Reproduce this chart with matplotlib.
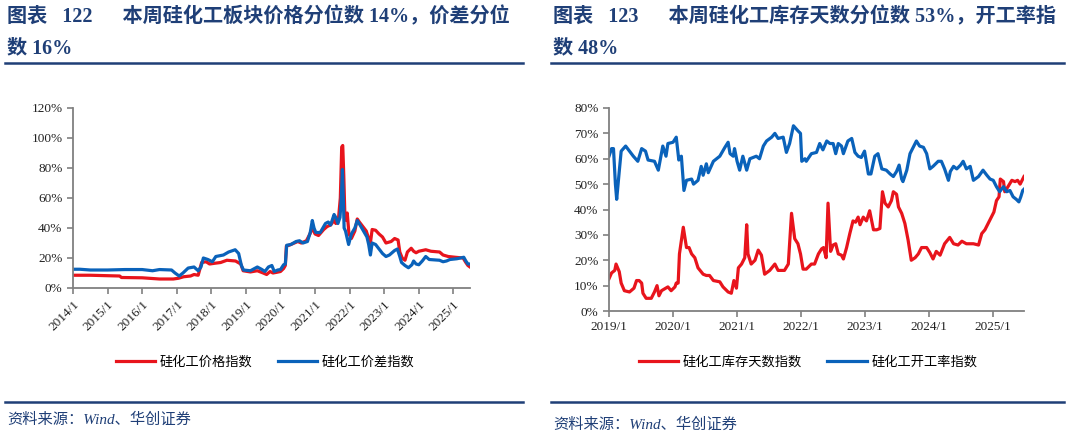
import matplotlib
matplotlib.use("Agg")
import matplotlib.pyplot as plt
from matplotlib.lines import Line2D

plt.rcParams["font.family"] = ["Liberation Serif", "Noto Sans CJK SC"]

RED = "#E8141C"
BLUE = "#0A62BA"
NAVY = "#1F3F77"
AXIS = "#808080"

# ---------- Data: left chart (decimal year, %) ----------
price_x = [2014.00, 2014.50, 2015.00, 2015.35, 2015.40, 2016.00, 2016.50, 2016.90, 2017.05, 2017.20,
           2017.40, 2017.50, 2017.62, 2017.72, 2017.85, 2017.95, 2018.10, 2018.27, 2018.45, 2018.70,
           2018.85, 2018.92, 2019.13, 2019.33, 2019.50, 2019.60, 2019.70, 2019.78, 2019.90, 2020.00,
           2020.09, 2020.14, 2020.17, 2020.25, 2020.40, 2020.50, 2020.60, 2020.75, 2020.85, 2020.92,
           2021.00, 2021.10, 2021.25, 2021.35, 2021.45, 2021.55, 2021.60, 2021.68, 2021.73, 2021.77,
           2021.80, 2021.83, 2021.86, 2021.90, 2021.93, 2021.98, 2022.05, 2022.15, 2022.22, 2022.28,
           2022.38, 2022.48, 2022.55, 2022.60, 2022.65, 2022.75, 2022.85, 2022.95, 2023.05, 2023.20,
           2023.30, 2023.40, 2023.45, 2023.52, 2023.60, 2023.67, 2023.78, 2023.85, 2023.92, 2024.00,
           2024.20, 2024.35, 2024.60, 2024.70, 2024.85, 2025.05, 2025.28, 2025.36, 2025.42, 2025.48]
price_y = [8.5, 8.5, 8.2, 8.0, 7.0, 6.8, 6.0, 6.0, 6.5, 7.5,
           8.0, 9.0, 8.5, 17.0, 17.5, 16.0, 16.5, 17.0, 18.5, 18.0,
           16.0, 11.5, 10.7, 11.5, 10.0, 9.0, 11.0, 10.0, 10.5, 11.0,
           13.0, 15.0, 28.0, 28.5, 30.0, 31.0, 30.0, 31.5, 36.0, 40.0,
           36.0, 35.0, 39.0, 41.0, 42.0, 45.0, 43.0, 47.0, 60.0, 94.0,
           95.0, 75.0, 50.0, 45.0, 50.0, 36.0, 33.0, 38.0, 46.0, 44.0,
           41.0, 38.0, 33.0, 30.0, 39.0, 38.5, 36.0, 34.0, 30.0, 31.0,
           33.0, 32.0, 24.0, 20.0, 18.5, 24.0, 26.5, 24.5, 23.5, 24.5,
           25.5, 24.5, 24.0, 22.0, 21.0, 20.5, 20.0, 17.0, 15.0, 14.0]

spread_x = [2014.00, 2014.20, 2014.50, 2015.00, 2015.50, 2016.00, 2016.30, 2016.50, 2016.85, 2016.95,
            2017.07, 2017.18, 2017.33, 2017.50, 2017.62, 2017.70, 2017.77, 2017.90, 2018.03, 2018.13,
            2018.35, 2018.50, 2018.69, 2018.79, 2018.87, 2018.93, 2019.13, 2019.33, 2019.45, 2019.55,
            2019.65, 2019.75, 2019.82, 2019.92, 2020.00, 2020.09, 2020.14, 2020.18, 2020.30, 2020.45,
            2020.55, 2020.65, 2020.78, 2020.86, 2020.92, 2020.97, 2021.02, 2021.15, 2021.30, 2021.38,
            2021.45, 2021.55, 2021.60, 2021.66, 2021.72, 2021.76, 2021.79, 2021.81, 2021.84, 2021.88,
            2021.92, 2021.97, 2022.05, 2022.15, 2022.22, 2022.30, 2022.40, 2022.50, 2022.55, 2022.60,
            2022.65, 2022.75, 2022.85, 2022.95, 2023.05, 2023.15, 2023.30, 2023.38, 2023.45, 2023.50,
            2023.60, 2023.70, 2023.80, 2023.85, 2023.92, 2024.00, 2024.10, 2024.20, 2024.30, 2024.60,
            2024.70, 2024.80, 2024.90, 2025.10, 2025.30, 2025.36, 2025.42, 2025.48]
spread_y = [12.5, 12.5, 12.0, 12.0, 12.3, 12.3, 11.5, 12.3, 12.0, 10.0,
            8.0, 10.0, 13.3, 14.0, 11.5, 14.0, 20.0, 19.0, 17.5, 21.0,
            22.0, 24.0, 25.5, 23.0, 15.0, 12.0, 11.5, 14.0, 12.5, 11.0,
            14.0, 15.0, 11.0, 12.0, 12.3, 15.5, 16.0, 28.5, 29.0, 31.0,
            31.5, 30.0, 31.0, 37.0, 45.0, 40.0, 37.0, 37.0, 43.0, 44.0,
            42.0, 49.0, 47.0, 43.0, 47.0, 60.0, 79.0, 65.0, 40.0, 38.0,
            34.0, 29.0, 36.0, 40.0, 45.0, 42.0, 38.0, 34.0, 29.0, 22.0,
            30.0, 29.0, 26.0, 23.0, 21.0, 22.0, 25.0, 26.0, 21.0, 17.0,
            15.0, 13.5, 15.5, 18.0, 16.0, 15.5, 18.0, 21.0, 19.0, 18.5,
            17.5, 18.0, 19.0, 19.5, 20.5, 18.0, 16.0, 16.0]

# ---------- Data: right chart (decimal year, %) ----------
stock_x = [2019.00, 2019.04, 2019.09, 2019.11, 2019.16, 2019.19, 2019.24, 2019.32, 2019.39, 2019.43,
           2019.47, 2019.51, 2019.53, 2019.58, 2019.66, 2019.71, 2019.75, 2019.78, 2019.82, 2019.92,
           2019.97, 2020.03, 2020.05, 2020.08, 2020.10, 2020.16, 2020.21, 2020.25, 2020.29, 2020.34,
           2020.39, 2020.47, 2020.52, 2020.57, 2020.63, 2020.73, 2020.78, 2020.86, 2020.91, 2020.95,
           2020.99, 2021.02, 2021.07, 2021.12, 2021.15, 2021.17, 2021.22, 2021.28, 2021.33, 2021.38,
           2021.43, 2021.51, 2021.59, 2021.64, 2021.74, 2021.80, 2021.85, 2021.90, 2021.95, 2021.99,
           2022.03, 2022.08, 2022.16, 2022.21, 2022.27, 2022.32, 2022.35, 2022.39, 2022.42, 2022.46,
           2022.50, 2022.54, 2022.58, 2022.63, 2022.66, 2022.71, 2022.76, 2022.81, 2022.85, 2022.89,
           2022.92, 2022.97, 2023.02, 2023.07, 2023.13, 2023.18, 2023.23, 2023.27, 2023.31, 2023.36,
           2023.41, 2023.44, 2023.49, 2023.52, 2023.57, 2023.62, 2023.67, 2023.72, 2023.78, 2023.83,
           2023.88, 2023.96, 2024.01, 2024.06, 2024.11, 2024.17, 2024.24, 2024.32, 2024.38, 2024.45,
           2024.51, 2024.58, 2024.69, 2024.77, 2024.82, 2024.87, 2024.92, 2024.97, 2025.01, 2025.05,
           2025.09, 2025.11, 2025.16, 2025.18, 2025.23, 2025.29, 2025.34, 2025.38, 2025.42, 2025.46,
           2025.48]
stock_y = [12.7, 15.0, 16.0, 18.5, 15.5, 11.0, 8.0, 7.5, 9.0, 12.0,
           12.0, 11.0, 7.0, 5.0, 5.0, 7.5, 10.0, 6.0, 8.0, 9.5,
           8.0, 9.5, 11.0, 11.0, 22.5, 33.0, 25.0, 25.0, 22.5, 21.0,
           17.0, 14.5, 14.0, 14.0, 12.0, 11.5, 9.5, 7.5, 7.0, 12.0,
           9.0, 17.0, 18.5, 21.0, 34.0, 22.5, 18.5, 20.0, 24.0, 22.0,
           14.5, 16.0, 18.5, 16.0, 16.0, 18.5, 38.5, 28.5, 26.5, 22.5,
           16.5, 16.5, 18.5, 18.5, 22.5, 24.5, 25.0, 21.0, 42.5, 23.5,
           26.0, 26.5, 22.5, 22.0, 20.5, 25.0, 30.5, 35.5, 35.0, 37.0,
           34.0, 37.0, 35.5, 39.5, 32.0, 32.0, 32.5, 47.0, 42.5, 41.0,
           43.5, 47.0, 46.0, 41.0, 38.5, 34.5, 28.0, 20.0, 21.0, 22.5,
           25.0, 25.0, 23.0, 20.5, 23.5, 22.0, 26.5, 29.0, 26.5, 26.0,
           27.5, 26.5, 26.5, 26.0, 30.5, 32.0, 34.5, 37.0, 39.0, 43.5,
           45.0, 52.0, 51.0, 47.0, 49.0, 51.5, 51.0, 51.5, 50.0, 52.0,
           53.0]

run_x = [2019.00, 2019.04, 2019.07, 2019.10, 2019.12, 2019.16, 2019.19, 2019.26, 2019.38, 2019.45,
         2019.48, 2019.51, 2019.57, 2019.61, 2019.71, 2019.77, 2019.84, 2019.89, 2019.92, 2020.00,
         2020.05, 2020.09, 2020.13, 2020.17, 2020.21, 2020.29, 2020.32, 2020.39, 2020.44, 2020.47,
         2020.52, 2020.55, 2020.63, 2020.73, 2020.81, 2020.86, 2020.89, 2020.94, 2020.96, 2021.00,
         2021.04, 2021.09, 2021.15, 2021.20, 2021.30, 2021.35, 2021.41, 2021.46, 2021.54, 2021.59,
         2021.64, 2021.72, 2021.77, 2021.82, 2021.88, 2021.95, 2021.99, 2022.01, 2022.06, 2022.08,
         2022.16, 2022.24, 2022.29, 2022.34, 2022.40, 2022.45, 2022.50, 2022.54, 2022.58, 2022.63,
         2022.66, 2022.73, 2022.79, 2022.84, 2022.89, 2022.94, 2022.99, 2023.05, 2023.09, 2023.15,
         2023.20, 2023.26, 2023.33, 2023.39, 2023.44, 2023.49, 2023.53, 2023.57, 2023.59, 2023.65,
         2023.70, 2023.75, 2023.80, 2023.85, 2023.91, 2023.96, 2024.01, 2024.06, 2024.14, 2024.19,
         2024.24, 2024.30, 2024.33, 2024.38, 2024.43, 2024.49, 2024.53, 2024.58, 2024.64, 2024.69,
         2024.77, 2024.84, 2024.90, 2024.95, 2025.00, 2025.05, 2025.10, 2025.16, 2025.21, 2025.26,
         2025.31, 2025.36, 2025.40, 2025.43, 2025.46, 2025.48]
run_y = [61.0, 64.0, 64.0, 50.0, 44.0, 55.0, 63.0, 65.0, 61.0, 59.0,
         61.5, 64.0, 63.0, 59.5, 59.0, 55.5, 65.0, 61.0, 66.0, 66.5,
         68.5, 59.5, 61.0, 47.5, 51.5, 52.0, 50.0, 51.5, 57.0, 53.5,
         58.0, 54.5, 59.0, 61.0, 64.5, 66.5, 62.0, 61.0, 64.0, 59.0,
         55.5, 61.0, 55.5, 60.0, 61.0, 60.0, 65.0, 67.0, 68.5, 70.0,
         68.0, 68.5, 62.5, 66.0, 73.0, 71.0, 70.0, 59.0, 60.0, 59.0,
         62.0, 62.5, 66.0, 63.5, 67.0, 66.0, 66.0, 62.0, 66.0, 65.0,
         62.0, 67.0, 68.0, 62.5, 61.0, 60.5, 63.0, 54.0, 54.0, 61.0,
         62.0, 56.0, 55.5, 54.0, 53.0, 55.0, 57.5, 52.0, 51.0, 55.5,
         62.0, 64.5, 67.0, 65.0, 64.5, 62.0, 56.0, 57.0, 59.0, 59.0,
         56.0, 51.5, 55.0, 57.0, 56.0, 57.5, 59.0, 56.0, 57.0, 51.5,
         53.0, 55.5, 53.5, 52.0, 51.5, 49.0, 47.0, 49.0, 47.0, 47.5,
         45.0, 44.0, 43.0, 45.0, 47.5, 48.0]

left_title = ["图表   122      本周硅化工板块价格分位数 14%，价差分位", "数 16%"]
right_title = ["图表   123      本周硅化工库存天数分位数 53%，开工率指", "数 48%"]
left_names = ["硅化工价格指数", "硅化工价差指数"]
right_names = ["硅化工库存天数指数", "硅化工开工率指数"]
source = "资料来源：Wind、华创证券"

# ---------- Figure ----------
fig = plt.figure(figsize=(10.69, 4.38), dpi=100)
W, H = 1069, 438


def fx(px):
    return px / W


def fy(py):
    return 1 - py / H


def style_axes(ax):
    for s in ["top", "right"]:
        ax.spines[s].set_visible(False)
    for s in ["left", "bottom"]:
        ax.spines[s].set_color(AXIS)
        ax.spines[s].set_linewidth(1.3)
    ax.tick_params(axis="both", colors=AXIS, length=4, width=1.2, labelsize=9.5,
                   labelcolor="#222222", direction="out")


# left chart
axL = fig.add_axes([fx(73), fy(288), fx(470) - fx(73), fy(108) - fy(288)])
axL.plot(price_x, price_y, color=RED, lw=2.3, label=left_names[0])
axL.plot(spread_x, spread_y, color=BLUE, lw=2.3, label=left_names[1])
axL.set_xlim(2014, 2025.48)
axL.set_ylim(0, 120)
axL.set_yticks(range(0, 121, 20))
axL.set_yticklabels([f"{v}%" for v in range(0, 121, 20)])
axL.set_xticks(range(2014, 2026))
axL.set_xticklabels([f"{y}/1" for y in range(2014, 2026)], rotation=45, ha="right",
                    rotation_mode="anchor", fontsize=10)
style_axes(axL)
axL.legend(loc="center", bbox_to_anchor=(fx(265), fy(362)), bbox_transform=fig.transFigure,
           ncol=2, frameon=False, handlelength=3.0, handletextpad=0.35, columnspacing=1.9,
           prop={"family": ["Noto Sans CJK SC"], "size": 9.5})

# right chart
axR = fig.add_axes([fx(609), fy(311), fx(1024) - fx(609), fy(108) - fy(311)])
axR.plot(stock_x, stock_y, color=RED, lw=2.3, label=right_names[0])
axR.plot(run_x, run_y, color=BLUE, lw=2.3, label=right_names[1])
axR.set_xlim(2019, 2025.48)
axR.set_ylim(0, 80)
axR.set_yticks(range(0, 81, 10))
axR.set_yticklabels([f"{v}%" for v in range(0, 81, 10)])
axR.set_xticks(range(2019, 2026))
axR.set_xticklabels([f"{y}/1" for y in range(2019, 2026)], fontsize=10)
style_axes(axR)
axR.legend(loc="center", bbox_to_anchor=(fx(808), fy(362)), bbox_transform=fig.transFigure,
           ncol=2, frameon=False, handlelength=3.0, handletextpad=0.35, columnspacing=1.9,
           prop={"family": ["Noto Sans CJK SC"], "size": 9.5})

# titles, rules, sources
for x0, x1, lines in [(5, 523, left_title), (551, 1064, right_title)]:
    fig.text(fx(x0 + 2), fy(17), lines[0], fontsize=14.5, fontweight="bold", color=NAVY,
             va="center", ha="left")
    fig.text(fx(x0 + 2), fy(48), lines[1], fontsize=14.5, fontweight="bold", color=NAVY,
             va="center", ha="left")
    fig.add_artist(Line2D([fx(x0), fx(x1)], [fy(63), fy(63)], color=NAVY, lw=1.8))
    fig.add_artist(Line2D([fx(x0), fx(x1)], [fy(402), fy(402)], color=NAVY, lw=1.8))

fig.text(fx(7), fy(420), source, fontsize=11, style="italic", color=NAVY, va="center", ha="left")
fig.text(fx(553), fy(425), source, fontsize=11, style="italic", color=NAVY, va="center", ha="left")

fig.savefig("out.png", dpi=100)
